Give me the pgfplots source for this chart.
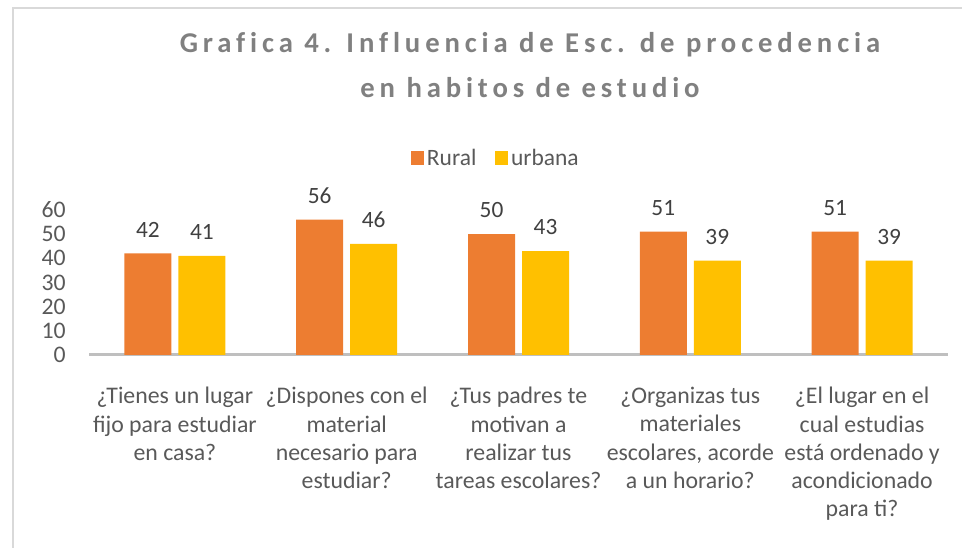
\documentclass[border=0pt]{standalone}
\usepackage{fontspec}
\setmainfont{Carlito}
\newfontfamily\titlefont[LetterSpace=17, Ligatures={NoCommon}]{Carlito}
\usepackage{pgfplots}
\pgfplotsset{compat=1.18}
\definecolor{rural}{HTML}{ED7D31}
\definecolor{urbana}{HTML}{FFC000}
\definecolor{txt}{HTML}{595959}
\definecolor{val}{HTML}{404040}
\definecolor{ttl}{HTML}{808080}
\definecolor{chartframe}{HTML}{D9D9D9}
\definecolor{baseline}{HTML}{BFBFBF}

\pgfplotstableread{
x rural urbana
0 42 41
1 56 46
2 50 43
3 51 39
4 51 39
}\datos

\begin{document}
\begin{tikzpicture}
% picture = 962 x 548 px, 1 px = 0.75pt
\useasboundingbox (0,0) rectangle (721.5pt,411pt);
\draw[chartframe, line width=1.5pt] (9.75pt,0) -- (9.75pt,405pt) -- (721.5pt,405pt);
\node[anchor=base, text=ttl, font=\titlefont\bfseries\fontsize{21.5}{25}\selectfont]
  at (397.5pt,371.25pt) {Grafica 4. Influencia de Esc. de procedencia};
\node[anchor=base, text=ttl, font=\titlefont\bfseries\fontsize{21.5}{25}\selectfont]
  at (397.5pt,337.5pt) {en habitos de estudio};

\begin{axis}[
  at={(66.75pt,144.75pt)}, anchor=south west,
  scale only axis, width=644.25pt, height=108.75pt,
  ybar=5.25pt, bar width=35.25pt,
  xmin=-0.5, xmax=4.5, ymin=0, ymax=60,
  ytick={0,10,...,60}, xtick={0,...,4},
  xticklabels={
    {¿Tienes un lugar\\fijo para estudiar\\en casa?},
    {¿Dispones con el\\material\\necesario para\\estudiar?},
    {¿Tus padres te\\motivan a\\realizar tus\\tareas escolares?},
    {¿Organizas tus\\materiales\\escolares, acorde\\a un horario?},
    {¿El lugar en el\\cual estudias\\está ordenado y\\acondicionado\\para ti?}},
  axis x line*=bottom, axis y line*=left,
  x axis line style={draw=baseline, line width=2.25pt, -},
  y axis line style={draw=none},
  major tick length=0pt, tick style={draw=none},
  /pgf/number format/assume math mode=true,
  yticklabel style={font=\fontsize{17.8}{20}\selectfont, text=txt, anchor=east, inner sep=0pt, xshift=-17.25pt},
  xticklabel style={font=\fontsize{17.85}{21.2}\selectfont, text=txt, align=center, anchor=north, inner sep=0pt, yshift=-24pt},
  nodes near coords,
  every node near coord/.append style={font=\fontsize{17.5}{20}\selectfont, text=val, inner sep=0pt, yshift=12pt},
  legend style={at={(0.474,1.359)}, anchor=center, legend columns=2, draw=none, fill=none,
    font=\fontsize{17.6}{20}\selectfont, text=txt,
    /tikz/every even column/.append style={column sep=12pt}},
  clip=false,
]
\addplot[fill=rural, draw=none, legend image code/.code={\fill[rural] (-2pt,-5pt) rectangle (8pt,5pt);}]
  table[x=x, y=rural] {\datos};
\addlegendentry{Rural}
\addplot[fill=urbana, draw=none, legend image code/.code={\fill[urbana] (-2pt,-5pt) rectangle (8pt,5pt);}]
  table[x=x, y=urbana] {\datos};
\addlegendentry{urbana}
\end{axis}
\end{tikzpicture}
\end{document}
